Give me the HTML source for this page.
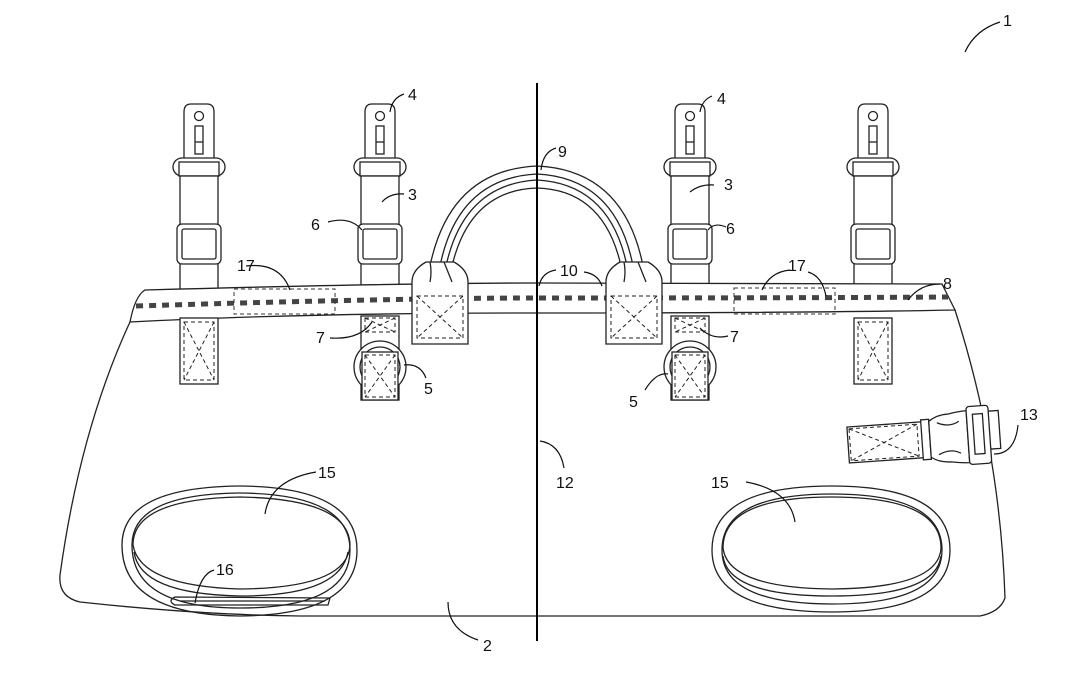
<!DOCTYPE html>
<html><head><meta charset="utf-8"><style>
html,body{margin:0;padding:0;background:#fff;width:1087px;height:680px;overflow:hidden}
svg{display:block}
text{font-family:"Liberation Sans",Arial,sans-serif;font-size:16px;fill:#111}
</style></head><body>
<svg width="1087" height="680" viewBox="0 0 1087 680" xmlns="http://www.w3.org/2000/svg">
<defs>
<g id="topstrap" fill="#fff" stroke="#222" stroke-width="1.3">
  <path d="M-15,160 L-15,112 Q-15,104 -8,104 L8,104 Q15,104 15,112 L15,160 Z"/>
  <circle cx="0" cy="116" r="4.5"/>
  <rect x="-4" y="126" width="8" height="28"/>
  <line x1="-4" y1="142" x2="4" y2="142"/>
  <rect x="-26" y="158" width="52" height="18" rx="9"/>
  <rect x="-20" y="162" width="40" height="14"/>
  <rect x="-19" y="176" width="38" height="114"/>
  <rect x="-22" y="224" width="44" height="40" rx="5"/>
  <rect x="-17" y="229" width="34" height="30" rx="2"/>
</g>
<g id="patch" fill="#fff" stroke="#222" stroke-width="1.3">
  <rect x="-19" y="318" width="38" height="66"/>
  <g stroke-dasharray="4,3" stroke-width="1" fill="none">
    <rect x="-15" y="322" width="30" height="58"/>
    <line x1="-15" y1="322" x2="15" y2="380"/><line x1="15" y1="322" x2="-15" y2="380"/>
  </g>
</g>
<g id="ringstrap" fill="#fff" stroke="#222" stroke-width="1.3">
  <rect x="-19" y="316" width="38" height="84"/>
  <circle cx="0" cy="367" r="26"/>
  <circle cx="0" cy="367" r="20"/>
  <rect x="-18" y="352" width="36" height="48"/>
  <g stroke-dasharray="4,3" stroke-width="1" fill="none">
    <rect x="-15" y="318" width="30" height="14"/>
    <line x1="-15" y1="318" x2="15" y2="332"/><line x1="15" y1="318" x2="-15" y2="332"/>
    <rect x="-15" y="355" width="30" height="42"/>
    <line x1="-15" y1="355" x2="15" y2="397"/><line x1="15" y1="355" x2="-15" y2="397"/>
  </g>
</g>
<g id="htab" fill="#fff" stroke="#222" stroke-width="1.3">
  <path d="M0,344 L0,282 Q0,270 14,262 L42,262 Q56,270 56,282 L56,344 Z"/>
  <path d="M18,262 Q20,272 18,282 M32,262 Q36,272 40,282" fill="none"/>
  <g stroke-dasharray="4,3" stroke-width="1" fill="none">
    <rect x="5" y="296" width="46" height="42"/>
    <line x1="5" y1="296" x2="51" y2="338"/><line x1="51" y1="296" x2="5" y2="338"/>
  </g>
</g>
</defs>

<path d="M145,290 Q140,292 130,322 Q80,430 60,575 Q58,597 80,602 Q200,615 300,616 L980,616 Q1000,612 1005,598 Q1000,450 955,310" fill="#fff" stroke="#222" stroke-width="1.3"/>

<use href="#topstrap" transform="translate(199,0)"/>
<use href="#topstrap" transform="translate(380,0)"/>
<use href="#topstrap" transform="translate(690,0)"/>
<use href="#topstrap" transform="translate(873,0)"/>

<g fill="none" stroke="#222" stroke-width="1.3">
  <path d="M430,266 Q450,170 537,166 Q624,170 643,266"/>
  <path d="M440,266 Q458,178 537,174 Q616,178 633,266"/>
  <path d="M446,266 Q464,184 537,180 Q610,184 627,266"/>
  <path d="M452,266 Q470,190 537,188 Q604,190 621,266"/>
</g>

<path d="M145,290 Q400,283 537,283 Q800,283 942,284 L955,310 Q800,313 537,313 Q300,313 130,322 Q135,296 145,290 Z" fill="#fff" stroke="#222" stroke-width="1.3"/>
<path d="M136,306 Q400,298 537,298 Q800,298 948,297" fill="none" stroke="#444" stroke-width="5" stroke-dasharray="7,6"/>
<g fill="none" stroke="#333" stroke-width="1" stroke-dasharray="4,3">
  <rect x="234" y="289" width="101" height="25"/>
  <rect x="734" y="288" width="101" height="26"/>
</g>

<use href="#patch" transform="translate(199,0)"/>
<use href="#patch" transform="translate(873,0)"/>
<use href="#ringstrap" transform="translate(380,0)"/>
<use href="#ringstrap" transform="translate(690,0)"/>
<use href="#htab" transform="translate(412,0)"/>
<use href="#htab" transform="translate(606,0)"/>

<g fill="none" stroke="#222" stroke-width="1.3">
  <path d="M122,545 Q122,487 240,486 Q357,487 357,550 Q357,615 240,616 Q122,615 122,545 Z"/>
  <path d="M132,545 Q132,494 240,493 Q350,494 350,550 Q350,608 240,608 Q132,608 132,545 Z"/>
  <path d="M133,545 Q133,499 240,497 Q349,499 350,545 Q348,588 240,589 Q140,586 133,545 Z"/>
  <path d="M134,552 Q140,594 240,596 Q340,596 348,552"/>
  <path d="M175,597 L330,598 L328,605 L175,605 Q167,601 175,597 Z"/>
  <line x1="180" y1="601" x2="325" y2="601"/>
</g>
<g fill="none" stroke="#222" stroke-width="1.3">
  <path d="M712,550 Q712,486 832,486 Q950,486 950,550 Q950,612 832,612 Q712,612 712,550 Z"/>
  <path d="M722,550 Q722,494 832,494 Q942,494 942,550 Q942,604 832,604 Q722,604 722,550 Z"/>
  <path d="M723,548 Q723,497 832,497 Q941,497 941,548 Q939,588 832,589 Q728,588 723,548 Z"/>
  <path d="M723,556 Q728,596 832,596 Q936,596 941,556"/>
</g>

<g transform="translate(920,440) rotate(-4)" fill="#fff" stroke="#222" stroke-width="1.3">
  <rect x="-72" y="-18" width="80" height="36"/>
  <g stroke-dasharray="4,3" stroke-width="1" fill="none">
    <rect x="-70" y="-16" width="68" height="32"/>
    <line x1="-70" y1="-16" x2="-2" y2="16"/><line x1="-2" y1="-16" x2="-70" y2="16"/>
  </g>
  <rect x="2" y="-20" width="8" height="40"/>
  <path d="M10,-18 Q18,-24 30,-24 Q40,-26 48,-26 L48,26 Q40,26 30,24 Q18,24 10,18 Z"/>
  <path d="M18,-16 Q30,-10 40,-16 M18,16 Q30,10 40,16" fill="none"/>
  <rect x="48" y="-30" width="22" height="58" rx="3"/>
  <rect x="54" y="-22" width="10" height="40"/>
  <path d="M70,-24 L80,-24 L80,14 L70,14" fill="none"/>
</g>

<line x1="537" y1="83" x2="537" y2="641" stroke="#000" stroke-width="2"/>

<g fill="none" stroke="#111" stroke-width="1.2">
  <path d="M965,52 Q975,30 1000,22"/>
  <path d="M390,112 Q392,98 404,94"/>
  <path d="M700,112 Q702,100 712,96"/>
  <path d="M541,170 Q543,152 556,148"/>
  <path d="M382,202 Q390,193 404,194"/>
  <path d="M690,192 Q700,184 714,185"/>
  <path d="M328,222 Q350,216 362,230"/>
  <path d="M708,230 Q714,222 726,227"/>
  <path d="M246,266 Q280,262 290,290"/>
  <path d="M762,290 Q770,272 790,270 M808,272 Q822,276 826,296"/>
  <path d="M539,286 Q542,272 556,270 M584,272 Q598,274 602,286"/>
  <path d="M908,300 Q920,284 940,284"/>
  <path d="M330,338 Q360,340 372,322"/>
  <path d="M700,328 Q712,340 728,336"/>
  <path d="M404,365 Q420,363 426,378"/>
  <path d="M645,390 Q656,372 668,374"/>
  <path d="M540,441 Q560,444 564,468"/>
  <path d="M994,454 Q1015,454 1018,425"/>
  <path d="M265,514 Q270,480 316,472"/>
  <path d="M795,522 Q790,490 746,482"/>
  <path d="M195,603 Q200,574 214,570"/>
  <path d="M448,602 Q448,630 478,640"/>
</g>

<g>
<text x="1003" y="26">1</text>
<text x="408" y="100">4</text>
<text x="717" y="104">4</text>
<text x="558" y="157">9</text>
<text x="408" y="200">3</text>
<text x="724" y="190">3</text>
<text x="311" y="230">6</text>
<text x="726" y="234">6</text>
<text x="237" y="271">17</text>
<text x="788" y="271">17</text>
<text x="560" y="276">10</text>
<text x="943" y="289">8</text>
<text x="316" y="343">7</text>
<text x="730" y="342">7</text>
<text x="424" y="394">5</text>
<text x="629" y="407">5</text>
<text x="1020" y="420">13</text>
<text x="556" y="488">12</text>
<text x="318" y="478">15</text>
<text x="711" y="488">15</text>
<text x="216" y="575">16</text>
<text x="483" y="651">2</text>
</g>
</svg>
</body></html>
